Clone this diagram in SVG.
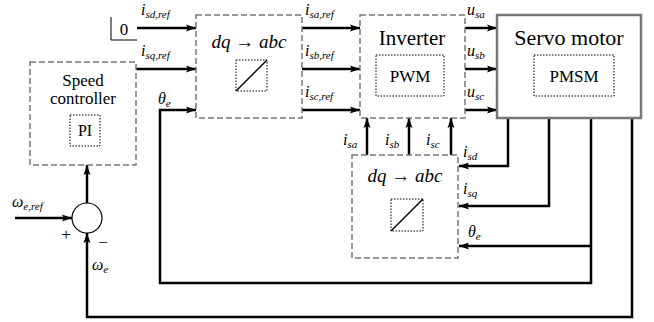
<svg xmlns="http://www.w3.org/2000/svg" width="654" height="322" viewBox="0 0 654 322">
<defs>
<marker id="ah" markerUnits="userSpaceOnUse" markerWidth="10" markerHeight="8" refX="10" refY="4" orient="auto">
<path d="M0,0.5 L10,4 L0,7.5 L2,4 Z" fill="#000"/>
</marker>
</defs>
<style>
.dash{fill:#fff;stroke:#777;stroke-width:1.5;stroke-dasharray:6,3}
.dot{fill:none;stroke:#000;stroke-width:1;stroke-dasharray:1.5,1.5}
.w{fill:none;stroke:#000;stroke-width:2.5}
.a{fill:none;stroke:#000;stroke-width:2.5;marker-end:url(#ah)}
.m{font-style:italic;font-size:16px}
.s{font-size:11px}
</style>
<rect width="654" height="322" fill="#fff"/>

<g id="connectors">
<path class="w" d="M111,17 V40 H137" style="stroke-width:1"/>
<path class="a" d="M137,28 H196"/>
<path class="a" d="M136,69 H196"/>
<path class="a" d="M591,118 V283 H160 V110 H196"/>
<path class="a" d="M591,246 H459"/>
<path class="a" d="M632,118 V317 H87 V233"/>
<path class="a" d="M508,118 V166 H459"/>
<path class="a" d="M549,118 V206 H459"/>
<path class="a" d="M367,155 V118"/>
<path class="a" d="M409,155 V118"/>
<path class="a" d="M451,155 V118"/>
<path class="a" d="M302,28 H360"/>
<path class="a" d="M302,69 H360"/>
<path class="a" d="M302,110 H360"/>
<path class="a" d="M465,28 H497"/>
<path class="a" d="M465,69 H497"/>
<path class="a" d="M465,110 H497"/>
<path class="a" d="M87,203 V165"/>
<path class="a" d="M15,218 H72"/>
</g>

<g id="labels" font-family="Liberation Serif, DejaVu Serif, serif" fill="#000">
<text class="m" x="141" y="15">i<tspan class="s" dy="3">sd,ref</tspan></text>
<text class="m" x="141" y="56">i<tspan class="s" dy="3">sq,ref</tspan></text>
<text class="m" x="158" y="104">θ<tspan class="s" dy="3">e</tspan></text>
<text class="m" x="305" y="15">i<tspan class="s" dy="3">sa,ref</tspan></text>
<text class="m" x="305" y="56">i<tspan class="s" dy="3">sb,ref</tspan></text>
<text class="m" x="305" y="97">i<tspan class="s" dy="3">sc,ref</tspan></text>
<text class="m" x="467" y="15">u<tspan class="s" dy="3">sa</tspan></text>
<text class="m" x="467" y="56">u<tspan class="s" dy="3">sb</tspan></text>
<text class="m" x="467" y="97">u<tspan class="s" dy="3">sc</tspan></text>
<text class="m" x="343" y="145">i<tspan class="s" dy="3">sa</tspan></text>
<text class="m" x="385" y="145">i<tspan class="s" dy="3">sb</tspan></text>
<text class="m" x="426" y="145">i<tspan class="s" dy="3">sc</tspan></text>
<text class="m" x="463" y="157">i<tspan class="s" dy="3">sd</tspan></text>
<text class="m" x="463" y="194">i<tspan class="s" dy="3">sq</tspan></text>
<text class="m" x="468" y="237">θ<tspan class="s" dy="3">e</tspan></text>
<text class="m" x="12" y="207">ω<tspan class="s" dy="3">e,ref</tspan></text>
<text class="m" x="92" y="270">ω<tspan class="s" dy="3">e</tspan></text>
<text x="66" y="240" font-size="17" text-anchor="middle">+</text>
<text x="103" y="248" font-size="17" text-anchor="middle">−</text>
<text x="124" y="35" font-size="17" text-anchor="middle">0</text>
</g>

<g id="speed-controller" font-family="Liberation Serif, DejaVu Serif, serif" fill="#000">
<rect class="dash" x="30" y="62" width="106" height="103"/>
<text x="83" y="86" font-size="17" text-anchor="middle">Speed</text>
<text x="83" y="104" font-size="17" text-anchor="middle">controller</text>
<rect class="dot" x="70" y="115" width="30" height="31"/>
<text x="85" y="136" font-size="16" text-anchor="middle">PI</text>
</g>

<g id="sum">
<circle cx="87" cy="218" r="15" fill="#fff" stroke="#000" stroke-width="1.2"/>
</g>

<g id="dq-abc-top" font-family="Liberation Serif, DejaVu Serif, serif" fill="#000">
<rect class="dash" x="196" y="15" width="106" height="103"/>
<text x="249" y="48" font-size="19" font-style="italic" text-anchor="middle">dq → abc</text>
<rect class="dot" x="236" y="60" width="31" height="31"/>
<path d="M236,91 L267,60" stroke="#000" stroke-width="1.5"/>
</g>

<g id="inverter" font-family="Liberation Serif, DejaVu Serif, serif" fill="#000">
<rect class="dash" x="360" y="15" width="105" height="103"/>
<text x="412" y="45" font-size="21" text-anchor="middle">Inverter</text>
<rect class="dot" x="376" y="55" width="68" height="41"/>
<text x="410" y="82" font-size="17" text-anchor="middle">PWM</text>
</g>

<g id="servo-motor" font-family="Liberation Serif, DejaVu Serif, serif" fill="#000">
<rect x="497" y="15" width="144" height="103" fill="#fff" stroke="#777" stroke-width="2.5"/>
<text x="569" y="45" font-size="22" text-anchor="middle">Servo motor</text>
<rect class="dot" x="534" y="55" width="80" height="41"/>
<text x="574" y="82" font-size="17" text-anchor="middle">PMSM</text>
</g>

<g id="dq-abc-bottom" font-family="Liberation Serif, DejaVu Serif, serif" fill="#000">
<rect class="dash" x="352" y="155" width="106" height="103"/>
<text x="405" y="182" font-size="19" font-style="italic" text-anchor="middle">dq → abc</text>
<rect class="dot" x="391" y="199" width="32" height="32"/>
<path d="M391,231 L423,199" stroke="#000" stroke-width="1.5"/>
</g>
</svg>
